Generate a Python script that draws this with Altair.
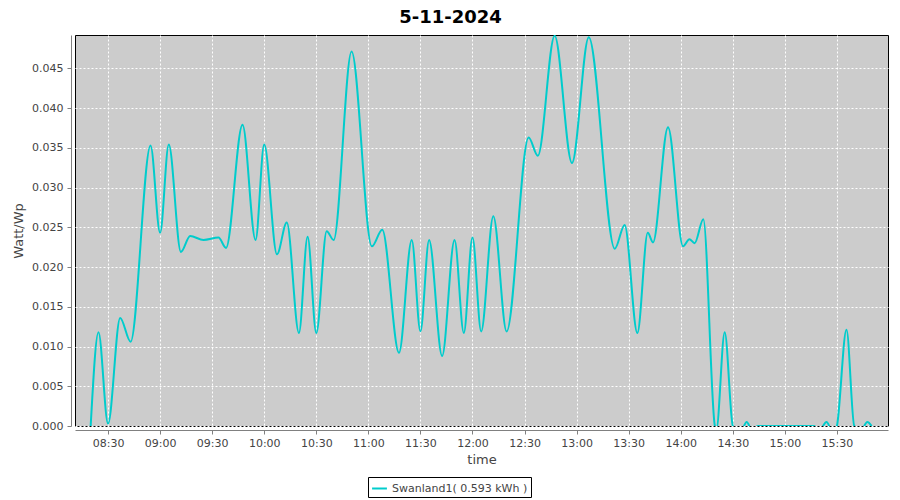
import altair as alt
import pandas as pd

times = [
    "08:20:00", "08:24:30", "08:30:00", "08:37:00", "08:43:00", "08:54:30", "09:00:00",
    "09:05:00", "09:12:00", "09:17:20", "09:25:00", "09:33:40", "09:38:00", "09:47:30",
    "09:55:00", "10:00:00", "10:07:20", "10:13:00", "10:20:00", "10:25:00", "10:30:00",
    "10:36:00", "10:40:00", "10:50:20", "11:02:00", "11:08:00", "11:17:40", "11:25:00",
    "11:30:00", "11:35:00", "11:42:30", "11:49:40", "11:55:00", "12:00:00", "12:05:00",
    "12:12:00", "12:19:40", "12:32:20", "12:37:40", "12:47:20", "12:57:20", "13:07:00",
    "13:22:00", "13:27:40", "13:35:00", "13:41:00", "13:44:00", "13:52:40", "14:01:20",
    "14:05:00", "14:08:00", "14:13:00", "14:19:40", "14:20:30", "14:25:20", "14:30:00",
    "14:34:00", "14:38:00", "14:41:00", "14:44:30", "15:16:40", "15:20:00", "15:24:00",
    "15:28:00", "15:30:00", "15:35:30", "15:40:00", "15:44:00", "15:47:30", "15:50:00",
]
values = [
    0.0, 0.0118, 0.0003, 0.0136, 0.0106, 0.0353, 0.0243,
    0.0354, 0.0219, 0.0239, 0.0234, 0.0237, 0.0224, 0.0379,
    0.0234, 0.0354, 0.0216, 0.0256, 0.0117, 0.0238, 0.0117,
    0.0245, 0.0234, 0.0471, 0.0226, 0.0247, 0.0092, 0.0234,
    0.0119, 0.0234, 0.0088, 0.0234, 0.0117, 0.0237, 0.0119,
    0.0264, 0.0119, 0.0363, 0.0340, 0.0491, 0.0331, 0.0489,
    0.0223, 0.0253, 0.0117, 0.0243, 0.0231, 0.0376, 0.0226,
    0.0235, 0.0230, 0.0260, 0.0, -0.0005, 0.0118, 0.0,
    -0.0010, 0.0005, -0.0005, 0.0, 0.0, -0.0005, 0.0005,
    -0.0010, 0.0, 0.0121, 0.0, -0.0005, 0.0005, 0.0,
]
tick_times = ["08:30", "09:00", "09:30", "10:00", "10:30", "11:00", "11:30", "12:00",
              "12:30", "13:00", "13:30", "14:00", "14:30", "15:00", "15:30"]
y_ticks = [0, 0.005, 0.01, 0.015, 0.02, 0.025, 0.03, 0.035, 0.04, 0.045]
series_name = "Swanland1( 0.593 kWh )"
title_text = "5-11-2024"

df = pd.DataFrame({
    "minute": [int(t[:2]) * 60 + int(t[3:5]) + int(t[6:8]) / 60 for t in times],
    "value": values,
    "series": series_name,
})
tick_minutes = [int(t[:2]) * 60 + int(t[3:5]) for t in tick_times]
label_expr = "timeFormat(datetime(2024, 10, 5, floor(datum.value / 60), datum.value % 60), '%H:%M')"

FONT = "DejaVu Sans"

chart = alt.Chart(df).mark_line(
    interpolate="monotone", strokeWidth=2, clip=True
).encode(
    x=alt.X(
        "minute:Q",
        title="time",
        scale=alt.Scale(domain=[490.97, 959.42], nice=False, zero=False),
        axis=alt.Axis(
            values=tick_minutes,
            labelExpr=label_expr,
            labelFont=FONT, labelFontSize=11, labelColor="#444444",
            titleFont=FONT, titleFontSize=13, titleFontWeight="normal", titleColor="#444444",
            domainColor="#808080", tickColor="#808080", tickSize=4, offset=4,
            gridColor="white", gridDash=[2, 2], gridOpacity=1,
            labelPadding=3, titlePadding=5, labelFlush=False,
        ),
    ),
    y=alt.Y(
        "value:Q",
        title="Watt/Wp",
        scale=alt.Scale(domain=[0, 0.04919], nice=False, zero=False),
        axis=alt.Axis(
            format=".3f",
            values=y_ticks,
            labelFont=FONT, labelFontSize=11, labelColor="#444444",
            titleFont=FONT, titleFontSize=13, titleFontWeight="normal", titleColor="#444444",
            domainColor="#808080", tickColor="#808080", tickSize=4, offset=4,
            gridColor="white", gridDash=[2, 2], gridOpacity=1,
            labelPadding=4, titlePadding=6,
        ),
    ),
    color=alt.Color(
        "series:N",
        scale=alt.Scale(range=["#00CCCC"]),
        legend=alt.Legend(
            title=None, orient="none", legendX=293, legendY=442,
            symbolType="stroke", symbolStrokeWidth=2, symbolSize=220,
            labelFont=FONT, labelFontSize=11, labelColor="#444444",
            strokeColor="black", padding=3,
        ),
    ),
).properties(
    width=813,
    height=391,
    background="white",
    title=alt.TitleParams(
        title_text, font=FONT, fontSize=18, fontWeight="bold", color="black",
        anchor="middle", dx=-31, offset=8,
    ),
    autosize=alt.AutoSizeParams(type="none"),
    padding={"left": 67, "top": 27, "right": 4, "bottom": 74},
).configure_view(
    fill="#CCCCCC", stroke="black", strokeWidth=1
)

chart.save("out.html", embed_options={"renderer": "svg", "actions": False})
